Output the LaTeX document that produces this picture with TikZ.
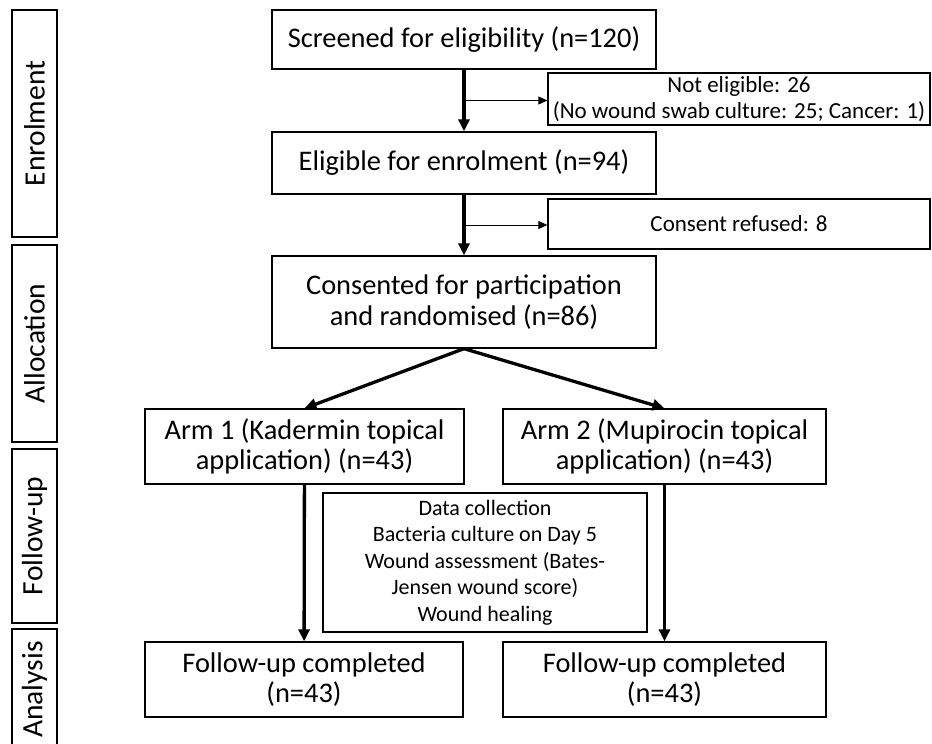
\documentclass[tikz,border=0pt]{standalone}
\usepackage{fontspec}
\setmainfont{Carlito}
\usetikzlibrary{positioning}
\usetikzlibrary{calc}
\usetikzlibrary{arrows.meta}

\tikzset{
  box/.style={draw, line width=1.3pt, inner sep=0pt, align=center, font=\fontsize{28.4}{30.5}\selectfont},
  smallbox/.style={draw, line width=1.3pt, inner sep=0pt, align=center, font=\fontsize{23}{25.5}\selectfont},
  stagebox/.style={draw, line width=1.6pt, inner sep=0pt, rotate=90, minimum height=45pt, font=\fontsize{29.5}{30}\selectfont},
  mainarrow/.style={-{Triangle[length=12pt,width=11pt]}, line width=3.3pt},
  sidearrow/.style={-{Triangle[length=9pt,width=8pt]}, line width=1pt}
}

\begin{document}
\begin{tikzpicture}[x=1pt,y=-1pt]
  \useasboundingbox (0,0) rectangle (932,744);

  % stages on the left
  \node [stagebox, minimum width=227pt] (enrol) at (34.5,123.5) {Enrolment};
  \node [stagebox, minimum width=197pt] (alloc) at (34.5,343.5) {Allocation};
  \node [stagebox, minimum width=174pt] (follow) at (34.5,536) {Follow-up};
  \node [stagebox, minimum width=121pt] (analysis) at (34.5,689.5) {Analysis};

  % main flow
  \node [box, minimum width=384pt, minimum height=59pt] (screen) at (464,39.5) {Screened for eligibility (n=120)};
  \node [box, minimum width=384pt, minimum height=62pt] (elig) at (464,163) {Eligible for enrolment (n=94)};
  \node [box, minimum width=384pt, minimum height=92pt] (consent) at (464,302) {Consented for participation\\and randomised (n=86)};
  \node [box, minimum width=319pt, minimum height=75pt] (arm1) at (304.5,446.5) {Arm 1 (Kadermin topical\\application) (n=43)};
  \node [box, minimum width=323pt, minimum height=75pt] (arm2) at (664.5,446.5) {Arm 2 (Mupirocin topical\\application) (n=43)};
  \node [box, minimum width=318pt, minimum height=75pt] (done1) at (304,679.5) {Follow-up completed\\(n=43)};
  \node [box, minimum width=323pt, minimum height=75pt] (done2) at (664.5,679.5) {Follow-up completed\\(n=43)};

  % exclusions and data
  \node [smallbox, minimum width=382pt, minimum height=52pt] (notel) at (739,99) {Not eligible: 26\\(No wound swab culture: 25; Cancer: 1)};
  \node [smallbox, minimum width=382pt, minimum height=50pt] (refused) at (739,224) {Consent refused: 8};
  \node [smallbox, font=\fontsize{22}{26.5}\selectfont, minimum width=324pt, minimum height=139pt] (data) at (485,562.5) {Data collection\\Bacteria culture on Day 5\\Wound assessment (Bates-\\Jensen wound score)\\Wound healing};

  \draw [mainarrow] (screen) -- (elig);
  \draw [mainarrow] (elig) -- (consent);
  \draw [mainarrow] (consent.south) -- (arm1.north);
  \draw [mainarrow] (consent.south) -- (arm2.north);
  \draw [mainarrow] (arm1) -- (done1);
  \draw [mainarrow] (arm2) -- (done2);

  \coordinate (split1) at ($(screen.south)!0.5!(elig.north)$);
  \coordinate (split2) at ($(elig.south)!0.5!(consent.north)$);
  \draw [sidearrow] (split1) -- (split1 -| notel.west);
  \draw [sidearrow] (split2) -- (split2 -| refused.west);
\end{tikzpicture}
\end{document}
